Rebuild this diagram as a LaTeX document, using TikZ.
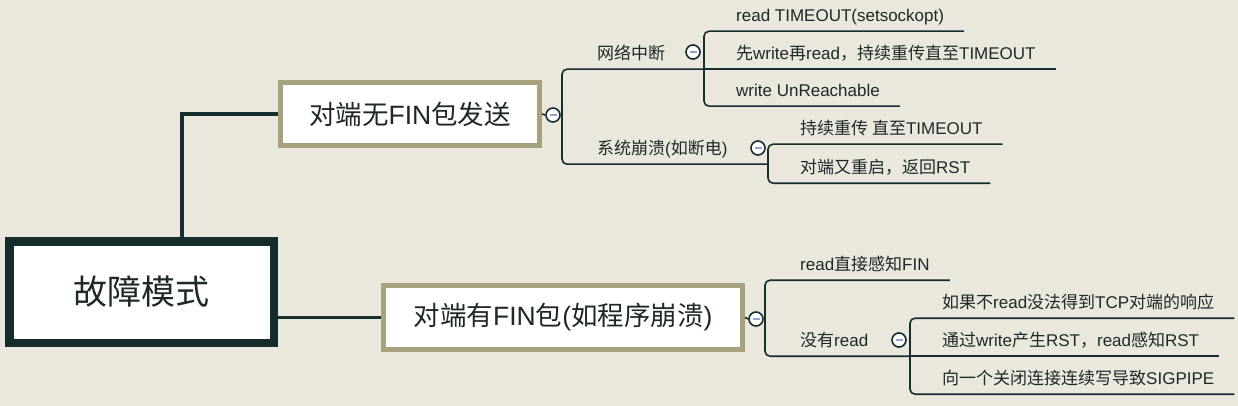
\documentclass[tikz,border=0pt]{standalone}
\usepackage{fontspec}
\setmainfont{Liberation Sans}
\newfontfamily\cjkfont{Noto Sans CJK SC}
\usetikzlibrary{calc}
% ideographs and full-width punctuation go to the CJK font
\XeTeXinterchartokenstate=1
\newXeTeXintercharclass\cjkclass
\newcount\cjkchar
\newcommand{\cjkrange}[2]{%
  \cjkchar=#1
  \loop\XeTeXcharclass\cjkchar=\cjkclass
  \ifnum\cjkchar<#2 \advance\cjkchar by 1 \repeat}
\cjkrange{"3000}{"303F}
\cjkrange{"4E00}{"9FFF}
\cjkrange{"FF00}{"FFEF}
\XeTeXinterchartoks 0 \cjkclass = {\cjkfont}
\XeTeXinterchartoks 4095 \cjkclass = {\cjkfont}
\XeTeXinterchartoks \cjkclass 0 = {\rmfamily}
\definecolor{paper}{RGB}{234,231,220}
\definecolor{edge}{RGB}{22,46,46}
\definecolor{rootc}{RGB}{20,44,44}
\definecolor{boxc}{RGB}{168,161,126}
\definecolor{ink}{RGB}{30,40,40}
\definecolor{minusc}{RGB}{150,160,205}
\begin{document}
\begin{tikzpicture}[x=1pt,y=-1pt,
  rootbox/.style={draw=rootc,fill=white,line width=8.5pt,inner sep=0pt,
    minimum width=264.5pt,minimum height=101.5pt,text=ink,font=\fontsize{34}{40}\selectfont},
  mainbox/.style={draw=boxc,fill=white,line width=5pt,inner sep=0pt,
    minimum height=63pt,text=ink,font=\fontsize{26.5}{32}\selectfont},
  leaf/.style={anchor=west,inner sep=0pt,minimum height=32pt,text height=14pt,
    text depth=1pt,text=ink,font=\fontsize{17}{20}\selectfont},
  fold/.style={circle,draw=edge,fill=white,line width=1.6pt,minimum size=14pt,inner sep=0pt,
    path picture={\draw[minusc,line width=1.4pt]
      ([xshift=-3.5pt]path picture bounding box.center) --
      ([xshift=3.5pt]path picture bounding box.center);}},
  trunk/.style={edge,line width=3.5pt},
  branch/.style={edge,line width=1.6pt,rounded corners=5pt}]
%: \bracket{<x>}{<top leaf>}{<bottom leaf>}
\newcommand{\bracket}[3]{%
  \draw[branch] ([xshift=20pt]#2.south east) -- (#2.south -| #1)
    -- (#3.south -| #1) -- ([xshift=20pt]#3.south east);}
%: \leafline{<x>}{<leaf>}
\newcommand{\leafline}[2]{%
  \draw[branch] (#2.south -| #1) -- ([xshift=20pt]#2.south east);}

\fill[paper] (0,0) rectangle (1238,406);
\useasboundingbox (0,0) rectangle (1238,406);

% topics
\node[rootbox] (root) at (141.5,292) {故障模式};
\node[mainbox,minimum width=259pt] (nofin) at (410,114) {对端无FIN包发送};
\node[mainbox,minimum width=359pt,minimum height=64pt] (hasfin) at (563,317.5)
  {对端有FIN包(如程序崩溃)};
\draw[trunk] ($(root.north west)!0.648!(root.north east)$) |- (nofin.west);
\draw[trunk] (root.east |- hasfin.west) -- (hasfin.west);

% bracket columns
\coordinate (b0) at (562,0);
\coordinate (bnet) at (704,0);
\coordinate (bcrash) at (768,0);
\coordinate (b1) at (765,0);
\coordinate (bread) at (910,0);

% first topic
\node[leaf] (net) at (597,53) {网络中断};
\node[leaf] (crash) at (597,148) {系统崩溃(如断电)};
\node[leaf] (t1) at (736,15) {read TIMEOUT(setsockopt)};
\node[leaf] (t2) at (736,53) {先write再read，持续重传直至TIMEOUT};
\node[leaf] (t3) at (736,90) {write UnReachable};
\node[leaf] (c1) at (800,128) {持续重传 直至TIMEOUT};
\node[leaf] (c2) at (800,167) {对端又重启，返回RST};

% second topic
\node[leaf] (h1) at (800,264) {read直接感知FIN};
\node[leaf] (noread) at (800,340) {没有read};
\node[leaf] (r1) at (942,302) {如果不read没法得到TCP对端的响应};
\node[leaf] (r2) at (942,340) {通过write产生RST，read感知RST};
\node[leaf] (r3) at (942,378) {向一个关闭连接连续写导致SIGPIPE};

\node[fold] (f0) at (553,115) {};
\node[fold] (f1) at (756,319) {};
\node[fold] (fnet) at (693,52) {};
\node[fold] (fcrash) at (758,148) {};
\node[fold] (fread) at (899,340) {};

\draw[branch] (nofin.east) -- (f0.west);
\draw[branch] (hasfin.east) -- (f1.west);
\draw[branch] (f0.east) -- (f0.east -| b0);
\draw[branch] (f1.east) -- (f1.east -| b1);
\draw[branch] (net.south -| bnet) -- (net.south -| b0)
  -- (crash.south -| b0) -- (crash.south -| bcrash);
\draw[branch] ([xshift=20pt]h1.south east) -- (h1.south -| b1)
  -- (noread.south -| b1) -- (noread.south -| bread);

\bracket{bnet}{t1}{t3}
\leafline{bnet}{t2}
\bracket{bcrash}{c1}{c2}
\bracket{bread}{r1}{r3}
\leafline{bread}{r2}
\end{tikzpicture}
\end{document}
